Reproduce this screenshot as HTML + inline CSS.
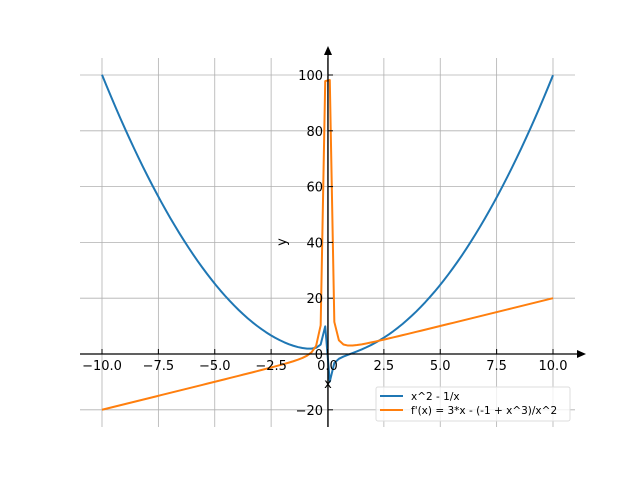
<!DOCTYPE html>
<html><head><style>
body{margin:0;background:#fff}
svg{display:block}
text{font-family:"DejaVu Sans","Liberation Sans",sans-serif;font-size:13px;fill:#000}
</style></head><body>
<svg id="s" width="640" height="480" xmlns="http://www.w3.org/2000/svg">
<g id="grid" stroke="#b0b0b0" stroke-width="0.8"></g>
<g id="series" fill="none" stroke-width="2" stroke-linejoin="round"></g>
<g id="axes"></g>
</svg>
<script>
const NS="http://www.w3.org/2000/svg";
const X=v=>327.5+v*22.55, Y=v=>354-v*2.79;
const g=document.getElementById('grid'), ax=document.getElementById('axes'), se=document.getElementById('series');
function el(p,t,a,txt){const e=document.createElementNS(NS,t);for(const k in a)e.setAttribute(k,a[k]);if(txt!=null)e.textContent=txt;p.appendChild(e);return e;}
for(let i=0;i<=8;i++){const v=-10+2.5*i,x=X(v);el(g,'line',{x1:x,x2:x,y1:58,y2:427});}
for(let v=-20;v<=100;v+=20){const y=Y(v);el(g,'line',{x1:80,x2:575,y1:y,y2:y});}
let b='',o='';
for(let i=0;i<100;i++){const x=-10+20*i/99;const f=x*x-1/x,d=2*x+1/(x*x);
b+=(i?'L':'M')+X(x).toFixed(2)+' '+Y(f).toFixed(2);o+=(i?'L':'M')+X(x).toFixed(2)+' '+Y(d).toFixed(2);}
el(se,'path',{d:b,stroke:'#1f77b4'});el(se,'path',{d:o,stroke:'#ff7f0e'});
el(ax,'line',{x1:80,x2:580,y1:354,y2:354,stroke:'#000','stroke-width':1.3});
el(ax,'path',{d:'M586 354 L577 350 L577 358Z',fill:'#000'});
el(ax,'line',{x1:328,x2:328,y1:427,y2:52,stroke:'#000','stroke-width':1.3});
el(ax,'path',{d:'M328 46 L324 55 L332 55Z',fill:'#000'});
for(let i=0;i<=8;i++){const v=-10+2.5*i,x=X(v);el(ax,'line',{x1:x,x2:x,y1:349,y2:354,stroke:'#000'});
el(ax,'text',{x:x,y:370,'text-anchor':'middle'},(v<0?'\u2212':'')+Math.abs(v).toFixed(1));}
for(let v=-20;v<=100;v+=20){const y=Y(v);el(ax,'line',{x1:328,x2:333,y1:y,y2:y,stroke:'#000'});
el(ax,'text',{x:323,y:y+5,'text-anchor':'end'},(v<0?'\u2212':'')+Math.abs(v));}
el(ax,'text',{x:328,y:388,'text-anchor':'middle'},'x');
el(ax,'text',{x:286,y:242,'text-anchor':'middle',transform:'rotate(-90 286 242)'},'y');
el(ax,'rect',{x:376,y:387,width:194,height:34,rx:2,fill:'#fff','fill-opacity':0.8,stroke:'#ddd'});
el(ax,'line',{x1:380,x2:403,y1:396,y2:396,stroke:'#1f77b4','stroke-width':2});
el(ax,'line',{x1:380,x2:403,y1:410,y2:410,stroke:'#ff7f0e','stroke-width':2});
el(ax,'text',{x:411,y:400,style:'font-size:10.5px'},'x^2 - 1/x');
el(ax,'text',{x:411,y:414,style:'font-size:10.5px'},"f'(x) = 3*x - (-1 + x^3)/x^2");
</script>
</body></html>
